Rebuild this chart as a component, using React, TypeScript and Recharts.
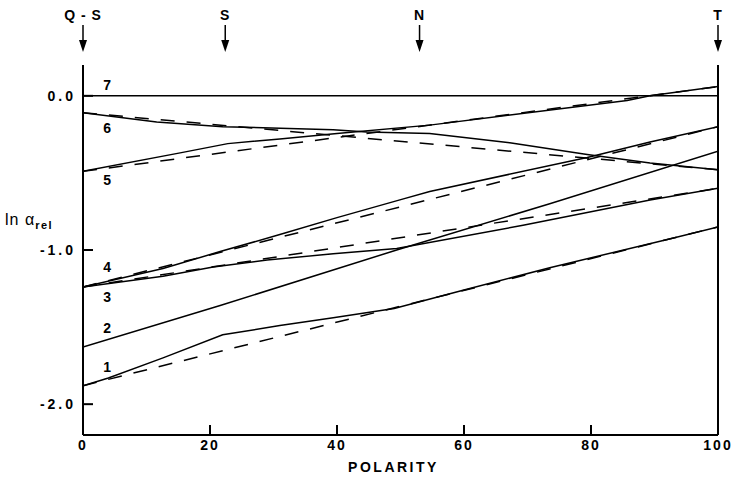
import React from 'react'
import { LineChart, Line, XAxis, YAxis, ReferenceLine, ReferenceDot } from 'recharts'

// solid curves (polarity, ln alpha_rel)
const curve1 = [
  { x: 0, y: -1.88 }, { x: 4, y: -1.83 }, { x: 12.6, y: -1.70 }, { x: 22, y: -1.55 },
  { x: 31, y: -1.49 }, { x: 39.4, y: -1.44 }, { x: 49, y: -1.38 }, { x: 60, y: -1.26 },
  { x: 73.5, y: -1.115 }, { x: 91.7, y: -0.935 }, { x: 100, y: -0.85 },
]
const curve2 = [
  { x: 0, y: -1.63 }, { x: 21.6, y: -1.36 }, { x: 49.4, y: -1.0 }, { x: 73.5, y: -0.70 }, { x: 100, y: -0.36 },
]
const curve3 = [
  { x: 0, y: -1.24 }, { x: 12.6, y: -1.17 }, { x: 20.5, y: -1.11 }, { x: 29, y: -1.065 },
  { x: 39.4, y: -1.025 }, { x: 49.4, y: -0.99 }, { x: 69.3, y: -0.84 }, { x: 89.3, y: -0.675 },
  { x: 100, y: -0.60 },
]
const curve4 = [
  { x: 0, y: -1.24 }, { x: 12.6, y: -1.12 }, { x: 21.6, y: -1.01 }, { x: 31, y: -0.90 },
  { x: 40, y: -0.79 }, { x: 49.9, y: -0.675 }, { x: 54.6, y: -0.62 }, { x: 79.4, y: -0.40 },
  { x: 89.3, y: -0.30 }, { x: 100, y: -0.20 },
]
const curve5 = [
  { x: 0, y: -0.49 }, { x: 15.3, y: -0.37 }, { x: 22.8, y: -0.31 }, { x: 31, y: -0.28 },
  { x: 40, y: -0.245 }, { x: 54.6, y: -0.19 }, { x: 85.7, y: -0.03 }, { x: 89.3, y: 0.0 },
  { x: 100, y: 0.06 },
]
const curve6 = [
  { x: 0, y: -0.11 }, { x: 11.6, y: -0.17 }, { x: 22, y: -0.20 }, { x: 39.4, y: -0.22 },
  { x: 44.7, y: -0.235 }, { x: 54.6, y: -0.245 }, { x: 67.2, y: -0.305 }, { x: 79.4, y: -0.38 },
  { x: 89.3, y: -0.435 }, { x: 100, y: -0.48 },
]
const curve7 = [{ x: 0, y: 0.0 }, { x: 100, y: 0.0 }]

// dashed: straight lines between the end values
const dashed1 = [{ x: 0, y: -1.88 }, { x: 100, y: -0.85 }]
const dashed3 = [{ x: 0, y: -1.24 }, { x: 100, y: -0.60 }]
const dashed4 = [{ x: 0, y: -1.24 }, { x: 100, y: -0.20 }]
const dashed5 = [{ x: 0, y: -0.49 }, { x: 100, y: 0.06 }]
const dashed6 = [{ x: 0, y: -0.11 }, { x: 100, y: -0.48 }]

const solidCurves = [curve1, curve2, curve3, curve4, curve5, curve6, curve7]
const dashedCurves = [dashed1, dashed3, dashed4, dashed5, dashed6]

// curve numbers and where they sit
const curveNames = ['1', '2', '3', '4', '5', '6', '7']
const curveLabelX = 3.8
const curveLabelY = [-1.76, -1.505, -1.305, -1.11, -0.546, -0.21, 0.07]

// arrows over the plot
const markerNames = ['Q - S', 'S', 'N', 'T']
const markerPos = [0, 22.4, 53, 100]
const markerY = 0.375

const xTicks = [0, 20, 40, 60, 80, 100]
const yTicks = [0, -1, -2]

const FONT = '"Liberation Sans", Arial, sans-serif'
const INK = '#000'

const xTickStyle = { fill: INK, fontSize: 14, fontFamily: FONT, fontWeight: 700, letterSpacing: 2 }
const yTickStyle = { fill: INK, fontSize: 14, fontFamily: FONT, fontWeight: 700, letterSpacing: 3 }

function curveLabel(name: string) {
  return (p: any) => (
    <text x={p.cx} y={p.cy} textAnchor="middle" dominantBaseline="central"
      fontSize={14} fontFamily={FONT} fontWeight={700} fill={INK}>{name}</text>
  )
}

function arrowMark(name: string) {
  return (p: any) => {
    const { cx, cy } = p
    return (
      <g>
        <text x={cx} y={cy - 18} textAnchor="middle" fontSize={14} fontFamily={FONT}
          fontWeight={700} fill={INK} letterSpacing={1}>{name}</text>
        <line x1={cx} x2={cx} y1={cy - 13} y2={cy + 4} stroke={INK} strokeWidth={1.5} />
        <path d={`M${cx - 4},${cy + 2} L${cx + 4},${cy + 2} L${cx},${cy + 14} Z`} fill={INK} />
      </g>
    )
  }
}

function YTitle(p: any) {
  const vb = p.viewBox
  return (
    <text x={vb.x + 5} y={vb.y + 160} fontSize={16} fontFamily={FONT} fill={INK} letterSpacing={1}>
      ln α<tspan dy={4} fontSize={11} fontWeight={700} letterSpacing={1.5}>rel</tspan>
    </text>
  )
}

export default function App() {
  return (
    <div style={{ position: 'absolute', left: 0, top: 0, background: '#fff' }}>
      <LineChart width={735} height={480} margin={{ top: 65, right: 17, bottom: 0, left: 0 }}>
        <XAxis type="number" dataKey="x" domain={[0, 100]} ticks={xTicks} height={45}
          axisLine={{ stroke: INK, strokeWidth: 2 }} tickLine={{ stroke: INK, strokeWidth: 2 }}
          tickSize={-10} tickMargin={15} tick={xTickStyle} allowDataOverflow
          label={{ value: 'POLARITY', position: 'insideBottom', offset: 8, fill: INK, fontSize: 14,
            fontFamily: FONT, fontWeight: 700, letterSpacing: 2.5, dx: -7 }} />
        <YAxis type="number" dataKey="y" domain={[-2.2, 0.2]} ticks={yTicks} width={83}
          axisLine={{ stroke: INK, strokeWidth: 2 }} tickLine={{ stroke: INK, strokeWidth: 2 }}
          tickSize={-10} tickMargin={17} tick={yTickStyle} allowDataOverflow
          tickFormatter={(v: number) => v.toFixed(1)}
          label={{ content: YTitle }} />
        <ReferenceLine x={100} stroke={INK} strokeWidth={2} />
        {dashedCurves.map((d, i) => (
          <Line key={'d' + i} data={d} dataKey="y" type="linear" stroke={INK} strokeWidth={1.5}
            strokeDasharray="14 12" dot={false} isAnimationActive={false} />
        ))}
        {solidCurves.map((d, i) => (
          <Line key={'s' + i} data={d} dataKey="y" type="linear" stroke={INK} strokeWidth={1.5}
            dot={false} isAnimationActive={false} />
        ))}
        {curveNames.map((n, i) => (
          <ReferenceDot key={'l' + n} x={curveLabelX} y={curveLabelY[i]} ifOverflow="visible"
            shape={curveLabel(n)} />
        ))}
        {markerNames.map((n, i) => (
          <ReferenceDot key={'m' + n} x={markerPos[i]} y={markerY} ifOverflow="visible"
            shape={arrowMark(n)} />
        ))}
      </LineChart>
    </div>
  )
}
